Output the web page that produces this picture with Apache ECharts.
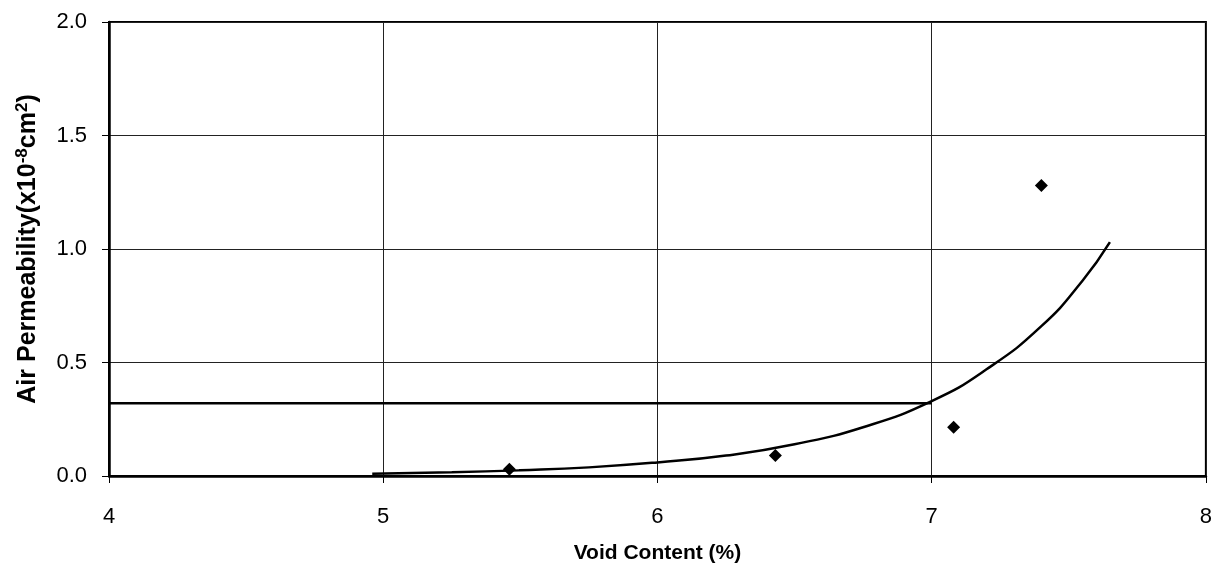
<!DOCTYPE html>
<html><head><meta charset="utf-8">
<script src="https://cdn.jsdelivr.net/npm/echarts@6/dist/echarts.min.js"></script>
<style>html,body{margin:0;padding:0;background:#fff}#c{width:1215px;height:571px}</style>
</head><body><div id="c"></div>
<script>
// Measured points (Void Content %, Air Permeability x1e-8 cm^2)
const voidContent = [5.46, 6.43, 7.08, 7.40];
const permeability = [0.03, 0.09, 0.215, 1.28];
// Trend curve
const trendX = [4.96, 5.25, 5.5, 5.75, 6.0, 6.25, 6.5, 6.75, 7.0, 7.2, 7.4, 7.55, 7.65];
const trendY = [0.01, 0.016, 0.025, 0.038, 0.06, 0.09, 0.14, 0.215, 0.33, 0.47, 0.66, 0.86, 1.03];
// Horizontal reference line
const refX = [4, 7];
const refY = [0.32, 0.32];

const chart = echarts.init(document.getElementById('c'));
const font = 'Liberation Sans, Arial, sans-serif';
chart.setOption({
  animation: false,
  grid: {left: 109, right: 8, top: 22, bottom: 95, show: true, borderColor: '#000', borderWidth: 2, backgroundColor: '#fff'},
  xAxis: {
    type: 'value', min: 4, max: 8, interval: 1,
    name: 'Void Content (%)', nameLocation: 'middle', nameGap: 67,
    nameTextStyle: {fontFamily: font, fontWeight: 'bold', fontSize: 21, color: '#000'},
    axisLine: {show: true, lineStyle: {color: '#000', width: 2.5}},
    axisTick: {show: true, length: 7, lineStyle: {color: '#000', width: 1}},
    axisLabel: {fontFamily: font, fontSize: 22, color: '#000', margin: 30},
    splitLine: {show: true, lineStyle: {color: '#222', width: 1}}
  },
  yAxis: {
    type: 'value', min: 0, max: 2, interval: 0.5,
    name: '{n|Air Permeability(x10}{s|-8}{n|cm}{s|2}{n|)}', nameLocation: 'middle', nameGap: 66, nameRotate: 90,
    nameTextStyle: {fontFamily: font, fontWeight: 'bold', fontSize: 25, color: '#000',
      rich: {
        n: {fontFamily: font, fontWeight: 'bold', fontSize: 25, color: '#000'},
        s: {fontFamily: font, fontWeight: 'bold', fontSize: 17, color: '#000', verticalAlign: 'top', padding: [0,0,12,0]}
      }},
    axisLine: {show: true, lineStyle: {color: '#000', width: 2.5}},
    axisTick: {show: true, length: 7, lineStyle: {color: '#000', width: 1}},
    axisLabel: {fontFamily: font, fontSize: 22, color: '#000', margin: 22, formatter: v => v.toFixed(1)},
    splitLine: {show: true, lineStyle: {color: '#222', width: 1}}
  },
  series: [
    {type: 'line', data: refX.map((x, i) => [x, refY[i]]), symbol: 'none', lineStyle: {color: '#000', width: 2.5}, z: 3},
    {type: 'line', data: trendX.map((x, i) => [x, trendY[i]]), smooth: true, symbol: 'none', lineStyle: {color: '#000', width: 2.5}, z: 3},
    {type: 'scatter', data: voidContent.map((x, i) => [x, permeability[i]]), symbol: 'diamond', symbolSize: 13, itemStyle: {color: '#000', opacity: 1}, z: 4}
  ]
});
</script></body></html>
